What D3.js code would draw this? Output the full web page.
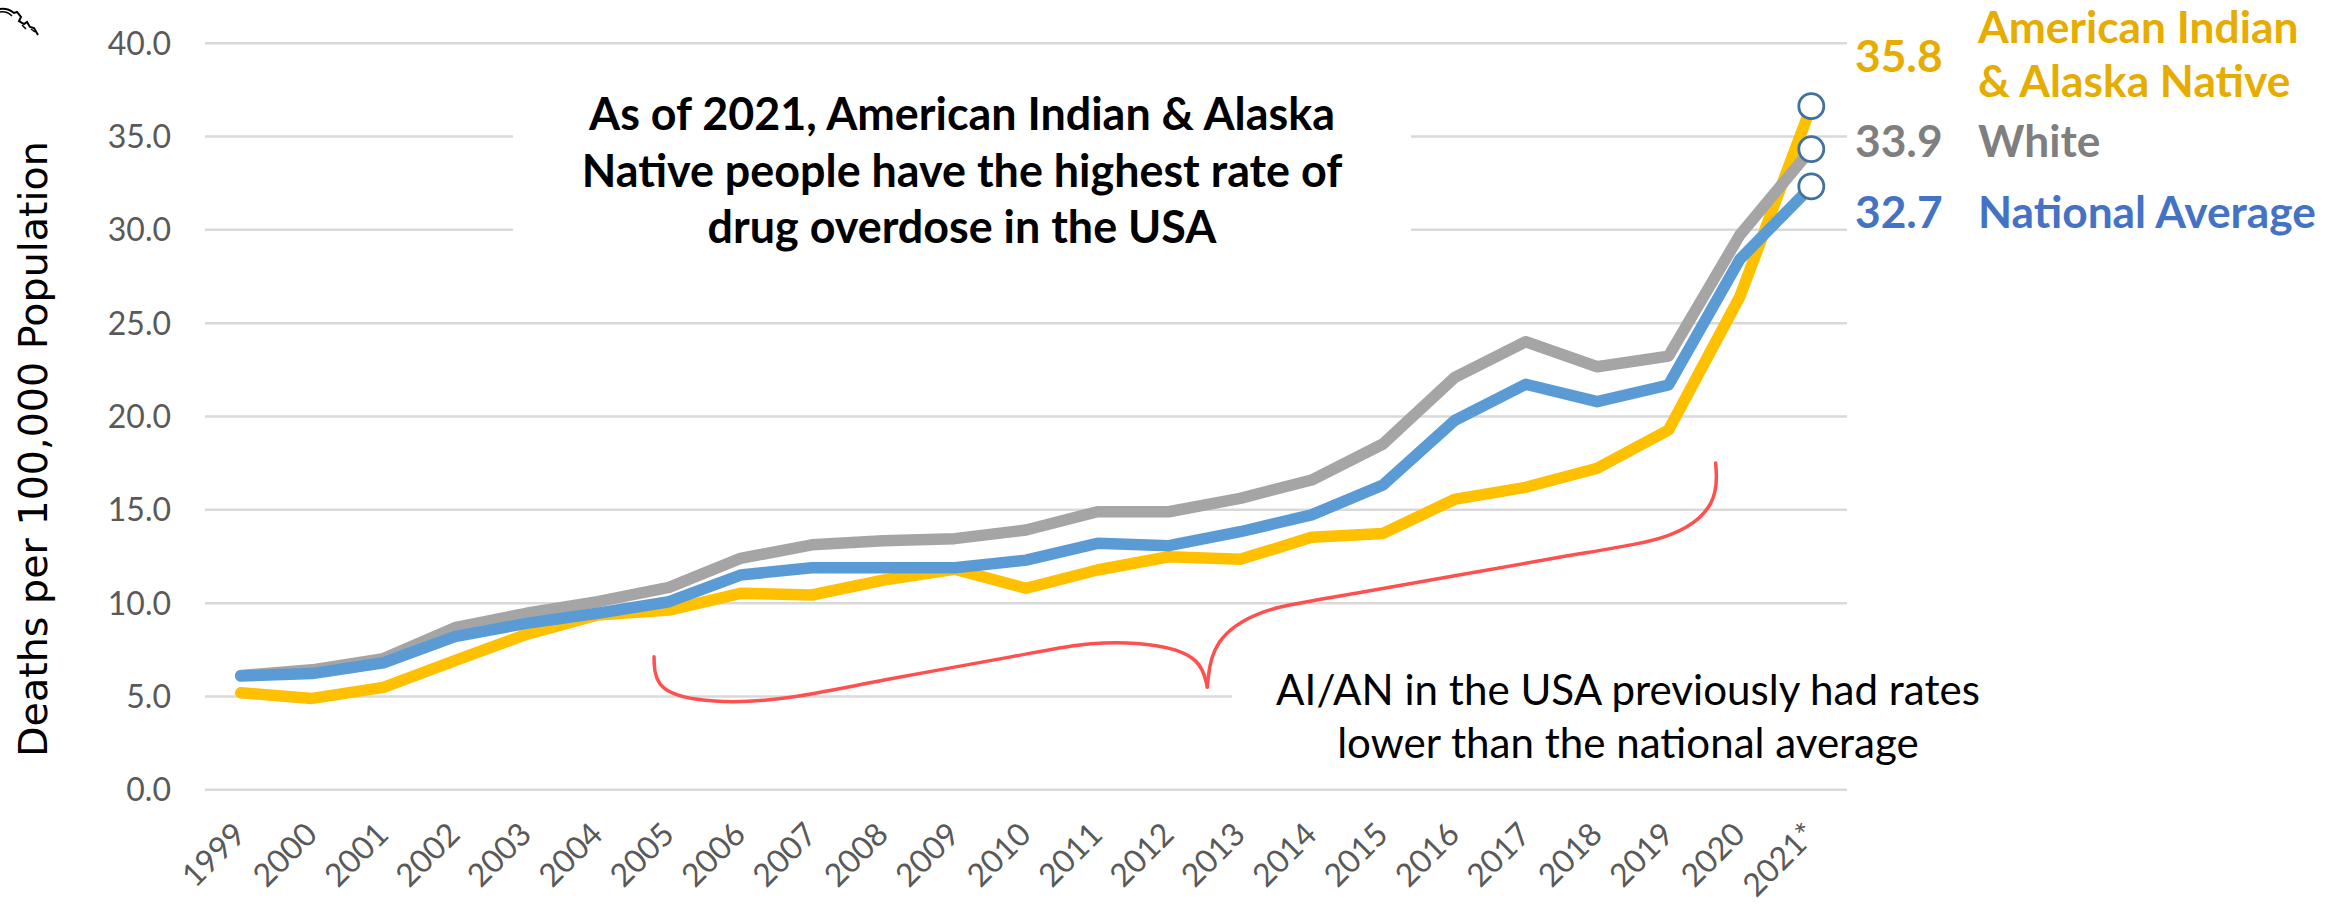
<!DOCTYPE html>
<html>
<head>
<meta charset="utf-8">
<script src="https://cdn.jsdelivr.net/npm/d3@7"></script>
<style>
  body { margin: 0; background: #fff; }
  svg { display: block; }
</style>
</head>
<body>
<div id="chart"></div>
<script>
// values
const years = ['1999','2000','2001','2002','2003','2004','2005','2006','2007','2008','2009',
  '2010','2011','2012','2013','2014','2015','2016','2017','2018','2019','2020','2021*'];
const aian = [5.17, 4.87, 5.46, 6.89, 8.3, 9.34, 9.6, 10.5, 10.41, 11.21, 11.79,
  10.77, 11.75, 12.46, 12.32, 13.5, 13.71, 15.53, 16.18, 17.2, 19.25, 26.4, 36.6];
const white = [6.1, 6.4, 7.0, 8.66, 9.43, 10.05, 10.82, 12.37, 13.1, 13.32, 13.43,
  13.89, 14.87, 14.87, 15.59, 16.57, 18.5, 22.05, 23.98, 22.64, 23.21, 29.7, 34.3];
const national = [6.07, 6.2, 6.78, 8.18, 8.89, 9.43, 10.05, 11.48, 11.87, 11.87, 11.87,
  12.28, 13.18, 13.05, 13.8, 14.7, 16.3, 19.75, 21.7, 20.77, 21.66, 28.4, 32.3];
const yTicks = [0, 5, 10, 15, 20, 25, 30, 35, 40];
const endValues = ['35.8', '33.9', '32.7'];
const endNames = [['American Indian', '& Alaska Native'], ['White'], ['National Average']];
const titleLines = ['As of 2021, American Indian & Alaska', 'Native people have the highest rate of', 'drug overdose in the USA'];
const noteLines = ['AI/AN in the USA previously had rates', 'lower than the national average'];
// brace control points in data space: [year index, value]
const braceLeft = [[5.79,7.1],[5.8,5.2],[6.6,4.6],[7.6,4.75],[8.9,5.81],[10.98,7.2],
  [11.9,7.95],[12.9,7.8],[13.45,7.0],[13.54,5.48]];
const braceRight = [[13.54,5.48],[13.6,8.0],[14.3,9.7],[15.13,10.14],[18.9,12.76],[20.1,13.4],
  [20.7,15.3],[20.66,17.48]];

const width = 2327, height = 904;
const marginLeft = 205, marginRight = 480, marginTop = 42.7, marginBottom = 114.7;

const svg = d3.select('#chart').append('svg')
  .attr('width', width).attr('height', height)
  .attr('viewBox', `0 0 ${width} ${height}`);

const x = d3.scaleBand().domain(years).range([marginLeft, width - marginRight]);
const y = d3.scaleLinear().domain([0, 40]).range([height - marginBottom, marginTop]);
const cx = d => x(d) + x.bandwidth() / 2;
const fx = t => x(years[0]) + x.bandwidth() / 2 + t * x.step();

function fit(sel, target) {
  const len = sel.node().getComputedTextLength();
  const size = parseFloat(sel.style('font-size'));
  return size * target / len;
}

// grid + y labels
svg.append('g')
  .attr('transform', `translate(${marginLeft},0)`)
  .call(d3.axisLeft(y).tickValues(yTicks).tickFormat(d3.format('.1f'))
    .tickSize(-(width - marginLeft - marginRight)).tickPadding(34))
  .call(g => g.select('.domain').remove())
  .call(g => g.selectAll('line').attr('stroke', '#d9d9d9').attr('stroke-width', 2.5))
  .call(g => g.selectAll('text').attr('fill', '#595959')
    .style('font-family', 'Lato').style('font-size', '32px').attr('dy', '0.36em'));

// x labels
svg.append('g')
  .attr('transform', `translate(0,${y(0)})`)
  .call(d3.axisBottom(x).tickSize(0))
  .call(g => g.select('.domain').remove())
  .call(g => g.selectAll('text')
    .attr('x', 0).attr('y', 0).attr('dy', 0)
    .attr('transform', 'translate(7,47) rotate(-45)')
    .attr('text-anchor', 'end')
    .attr('fill', '#595959')
    .style('font-family', 'Lato').style('font-size', '32px'));

// white boxes behind the text blocks
svg.append('rect').attr('x', 513).attr('y', 70).attr('width', 898).attr('height', 200).attr('fill', '#fff');
svg.append('rect').attr('x', 1232).attr('y', 625).attr('width', 700).attr('height', 150).attr('fill', '#fff');

// lines
const line = d3.line().x((d, i) => cx(years[i])).y(d => y(d));
const series = [
  { values: aian, color: '#FFC000' },
  { values: white, color: '#A5A5A5' },
  { values: national, color: '#5B9BD5' }
];
series.forEach(s => {
  svg.append('path')
    .datum(s.values)
    .attr('fill', 'none')
    .attr('stroke', s.color)
    .attr('stroke-width', 11.5)
    .attr('stroke-linecap', 'round')
    .attr('stroke-linejoin', 'round')
    .attr('d', line);
});

// end markers
const last = years.length - 1;
series.forEach(s => {
  svg.append('circle')
    .attr('cx', cx(years[last])).attr('cy', y(s.values[last])).attr('r', 12.5)
    .attr('fill', '#fff').attr('stroke', '#41719C').attr('stroke-width', 2.8);
});

// red brace
const brace = d3.line().x(d => fx(d[0])).y(d => y(d[1])).curve(d3.curveBasis);
[braceLeft, braceRight].forEach(p => {
  svg.append('path').datum(p).attr('d', brace)
    .attr('fill', 'none').attr('stroke', '#FF5050').attr('stroke-width', 3.5)
    .attr('stroke-linecap', 'round');
});

// title
const title = svg.append('g').style('font-family', 'Lato').style('font-weight', 700).attr('fill', '#000');
const t0 = title.append('text').style('font-size', '40px').text(titleLines[0]);
const titleSize = fit(t0, 746);
t0.remove();
titleLines.forEach((s, i) => {
  title.append('text').attr('x', 962).attr('y', 130 + i * 56.5)
    .attr('text-anchor', 'middle').style('font-size', titleSize + 'px').text(s);
});

// note
const note = svg.append('g').style('font-family', 'Lato').attr('fill', '#000');
const n0 = note.append('text').style('font-size', '40px').text(noteLines[0]);
const noteSize = fit(n0, 704);
n0.remove();
noteLines.forEach((s, i) => {
  note.append('text').attr('x', 1628).attr('y', 705 + i * 53)
    .attr('text-anchor', 'middle').style('font-size', noteSize + 'px').text(s);
});

// y axis title
const yt = svg.append('text')
  .attr('transform', 'translate(47,449) rotate(-90)')
  .attr('text-anchor', 'middle')
  .style('font-family', 'DejaVu Sans').style('font-size', '36px')
  .attr('fill', '#000')
  .text('Deaths per 100,000 Population');
yt.style('font-size', fit(yt, 616) + 'px');

// right-hand labels
const labelColors = ['#E6AC00', '#7F7F7F', '#4472C4'];
const valueBase = [72, 157, 228];
const nameBase = [[43, 97], [157], [228]];
const lab = svg.append('g').style('font-family', 'Lato').style('font-weight', 700);
const l0 = lab.append('text').style('font-size', '40px').text(endNames[2][0]);
const labSize = fit(l0, 338);
l0.remove();
endValues.forEach((v, i) => {
  lab.append('text').attr('x', 1855).attr('y', valueBase[i]).attr('fill', labelColors[i])
    .style('font-size', labSize + 'px').text(v);
  endNames[i].forEach((s, j) => {
    lab.append('text').attr('x', 1978).attr('y', nameBase[i][j]).attr('fill', labelColors[i])
      .style('font-size', labSize + 'px').text(s);
  });
});

// small scribble in the corner
svg.append('path')
  .attr('d', 'M0,9 Q8,8 14,13 L17,12 L21,17 L19,21 L24,24 L27,22 L30,27 L34,28 L38,35')
  .attr('fill', 'none').attr('stroke', '#000').attr('stroke-width', 2);
svg.append('path')
  .attr('d', 'M0,12 Q7,11 12,16 M22,25 L26,29 M31,29 L35,32')
  .attr('fill', 'none').attr('stroke', '#000').attr('stroke-width', 1.5);
</script>
</body>
</html>
